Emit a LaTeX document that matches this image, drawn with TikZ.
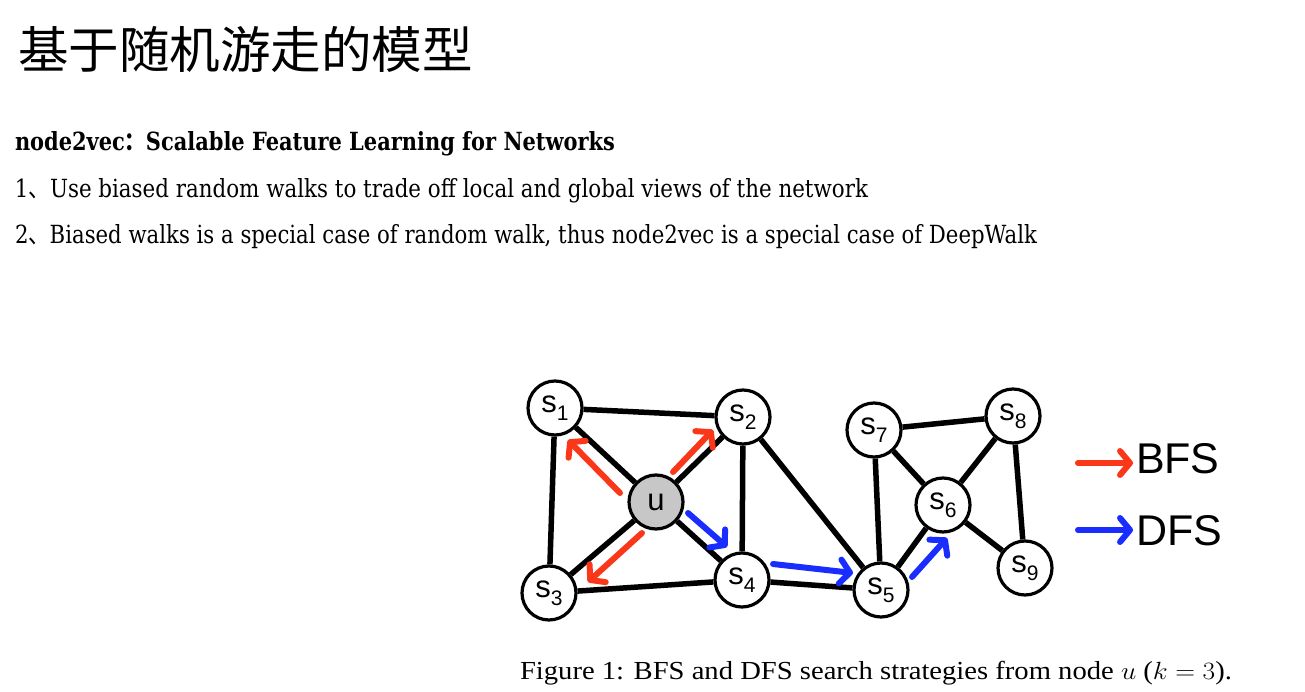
\documentclass[tikz,border=0pt]{standalone}
\usepackage{fontspec}
\usepackage{graphicx}
\setmainfont{DejaVu Serif}
\newfontfamily\cjk{Noto Sans CJK SC}
\newfontfamily\arialf{Liberation Sans}
\newfontfamily\capf{Liberation Serif}
\usetikzlibrary{arrows.meta}
\definecolor{bfsred}{RGB}{250,55,25}
\definecolor{dfsblue}{RGB}{25,45,255}
\newcommand\lab[2]{#1\raisebox{-8pt}{\fontsize{21}{21}\selectfont #2}}
\begin{document}
\begin{tikzpicture}[x=1pt,y=-1pt,
  vtx/.style={circle, draw, line width=3.2pt, fill=white, minimum size=54pt, inner sep=0pt, font=\arialf\fontsize{31}{31}\selectfont},
  edge/.style={line width=5.5pt},
  bfs/.style={line width=6pt, color=bfsred, line cap=round, -{Straight Barb[round,length=10pt,width=24pt]}},
  dfs/.style={bfs, color=dfsblue},
  txt/.style={anchor=base west, inner sep=0pt, outer sep=0pt}]
\useasboundingbox (0,0) rectangle (1305,692);
% texts
\node[txt] (title) at (18,69) {\resizebox{455pt}{\height}{\cjk\fontsize{50}{50}\selectfont 基于随机游走的模型}};
\node[txt] (head) at (15,151) {\resizebox{600pt}{\height}{\bfseries\fontsize{25}{25}\selectfont node2vec{\cjk ：}Scalable Feature Learning for Networks}};
\node[txt] (l1) at (15,198) {\resizebox{853pt}{\height}{\fontsize{25}{25}\selectfont 1{\cjk 、}Use biased random walks to trade off local and global views of the network}};
\node[txt] (l2) at (15,244) {\resizebox{1022pt}{\height}{\fontsize{25}{25}\selectfont 2{\cjk 、}Biased walks is a special case of random walk, thus node2vec is a special case of DeepWalk}};
\node[txt] (cap) at (520,679) {\resizebox{712pt}{\height}{\capf\fontsize{26}{26}\selectfont Figure 1: BFS and DFS search strategies from node $u$ ($k=3$).}};
% vertices
\node[vtx] (s1) at (555,408) {\lab{s}{1}};
\node[vtx] (s2) at (743,417) {\lab{s}{2}};
\node[vtx, fill=black!22] (u) at (656,502) {u};
\node[vtx] (s3) at (549,593) {\lab{s}{3}};
\node[vtx] (s4) at (742,580) {\lab{s}{4}};
\node[vtx] (s5) at (881,590) {\lab{s}{5}};
\node[vtx] (s6) at (943,505) {\lab{s}{6}};
\node[vtx] (s7) at (874,430) {\lab{s}{7}};
\node[vtx] (s8) at (1013,416) {\lab{s}{8}};
\node[vtx] (s9) at (1025,568) {\lab{s}{9}};
% edges
\foreach \a/\b in {s1/s2,s1/u,s1/s3,u/s2,u/s3,u/s4,s2/s4,s2/s5,s3/s4,s4/s5,s5/s7,s5/s6,s7/s6,s7/s8,s6/s8,s6/s9,s8/s9}
  \draw[edge] (\a) -- (\b);
% walk arrows
\coordinate (r1a) at (620,493); \coordinate (r1b) at (568,440);
\coordinate (r2a) at (673,472); \coordinate (r2b) at (713,430);
\coordinate (r3a) at (642,533); \coordinate (r3b) at (588,582);
\coordinate (b1a) at (688,513); \coordinate (b1b) at (727,547);
\coordinate (b2a) at (773,564); \coordinate (b2b) at (853,573);
\coordinate (b3a) at (912,577); \coordinate (b3b) at (947,538);
\draw[bfs] (r1a) -- (r1b);
\draw[bfs] (r2a) -- (r2b);
\draw[bfs] (r3a) -- (r3b);
\draw[dfs] (b1a) -- (b1b);
\draw[dfs] (b2a) -- (b2b);
\draw[dfs] (b3a) -- (b3b);
% legend
\node[txt, font=\arialf\fontsize{43}{43}\selectfont] (bfslab) at (1136,473) {BFS};
\node[txt, font=\arialf\fontsize{43}{43}\selectfont] (dfslab) at (1136,545) {DFS};
\coordinate (lb0) at (1078,463); \coordinate (lb1) at (1133,463);
\coordinate (ld0) at (1078,530); \coordinate (ld1) at (1133,530);
\draw[bfs] (lb0) -- (lb1);
\draw[dfs] (ld0) -- (ld1);
\end{tikzpicture}
\end{document}
